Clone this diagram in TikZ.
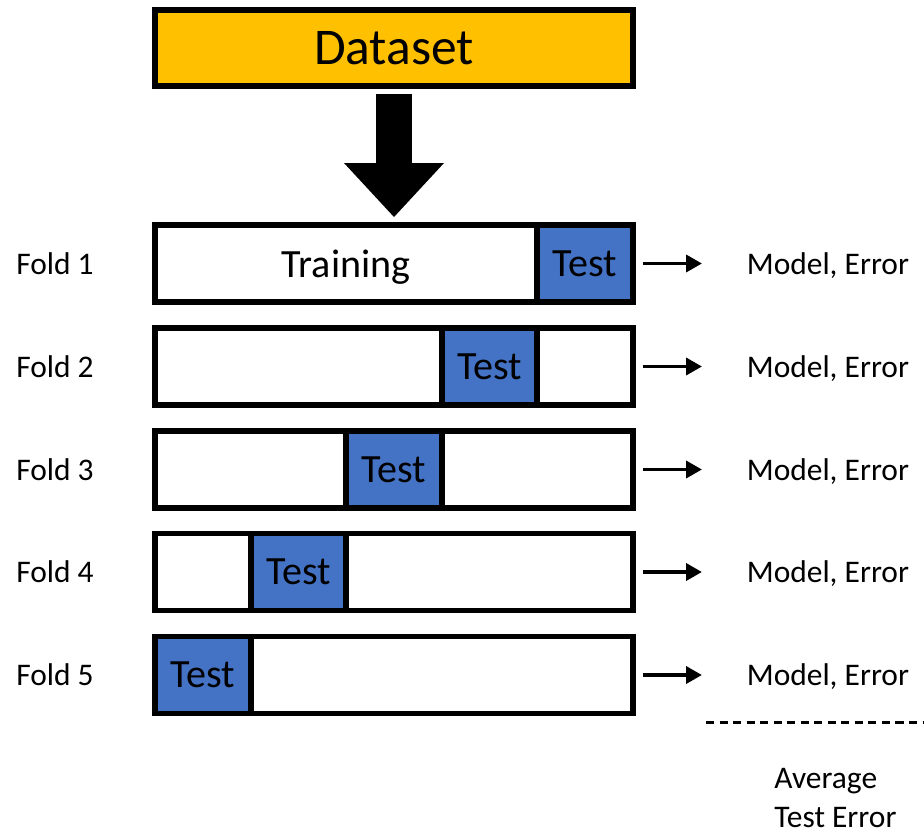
\documentclass[tikz,border=0pt]{standalone}
\usepackage{fontspec}
\setmainfont{Carlito}
\usepackage{xcolor}
\definecolor{dataset}{HTML}{FFC000}
\definecolor{testblue}{HTML}{4472C4}
\usepackage{tikz}
\usetikzlibrary{arrows.meta, positioning, calc}

\begin{document}
\begin{tikzpicture}[
  every node/.style={font=\fontsize{17.9}{22.2}\selectfont},
  data/.style={rectangle, draw=black, fill=dataset, line width=3.4pt,
               minimum width=9.56cm, minimum height=1.52cm, inner sep=0pt,
               font=\fontsize{29.3}{35}\selectfont},
  bar/.style={rectangle, draw=black, fill=white, line width=3.4pt,
              minimum width=9.56cm, minimum height=1.54cm, inner sep=0pt},
  testbox/.style={rectangle, draw=black, fill=testblue, line width=3.4pt,
                  minimum width=1.912cm, minimum height=1.54cm, inner sep=0pt,
                  font=\fontsize{22.8}{27}\selectfont},
  foldlabel/.style={inner sep=0pt},
  result/.style={anchor=west, inner sep=0pt, text depth=0pt},
  res/.style={-{Triangle[length=9pt, width=9.5pt]}, line width=2.2pt},
  bigarrow/.style={-{Triangle[length=1.08cm, width=2cm, line width=0pt]}, line width=0.72cm},
  avgline/.style={line width=1.7pt, dash pattern=on 4.6pt off 3.1pt}
]
  \useasboundingbox (0,0) rectangle (18.48,16.70);

  \node[data] (data) at (7.88, 15.74) {Dataset};

  % folds
  \node[bar] (fold1) at (7.88, 11.43) {};
  \node[bar] (fold2) at (7.88, 9.37) {};
  \node[bar] (fold3) at (7.88, 7.31) {};
  \node[bar] (fold4) at (7.88, 5.26) {};
  \node[bar] (fold5) at (7.88, 3.20) {};
  \node[font=\fontsize{22.8}{27}\selectfont, inner sep=0pt, text depth=0pt] (train) at (6.92, 11.43) {Training};
  \node[testbox] (test1) at (11.70, 11.43) {Test};
  \node[testbox] (test2) at (9.79, 9.37) {Test};
  \node[testbox] (test3) at (7.88, 7.31) {Test};
  \node[testbox] (test4) at (5.97, 5.26) {Test};
  \node[testbox] (test5) at (4.06, 3.20) {Test};

  \node[foldlabel] (lab1) at (1.10, 11.43) {Fold 1};
  \node[foldlabel] (lab2) at (1.10, 9.37) {Fold 2};
  \node[foldlabel] (lab3) at (1.10, 7.31) {Fold 3};
  \node[foldlabel] (lab4) at (1.10, 5.26) {Fold 4};
  \node[foldlabel] (lab5) at (1.10, 3.20) {Fold 5};

  \node[result] (err1) at (14.93, 11.43) {Model, Error};
  \node[result] (err2) at (14.93, 9.37) {Model, Error};
  \node[result] (err3) at (14.93, 7.31) {Model, Error};
  \node[result] (err4) at (14.93, 5.26) {Model, Error};
  \node[result] (err5) at (14.93, 3.20) {Model, Error};

  \draw[bigarrow] ([yshift=-1mm]data.south) -- ([yshift=1mm]fold1.north);

  \draw[res] ([xshift=0.14cm]fold1.east) -- ([xshift=-0.89cm]err1.west);
  \draw[res] ([xshift=0.14cm]fold2.east) -- ([xshift=-0.89cm]err2.west);
  \draw[res] ([xshift=0.14cm]fold3.east) -- ([xshift=-0.89cm]err3.west);
  \draw[res] ([xshift=0.14cm]fold4.east) -- ([xshift=-0.89cm]err4.west);
  \draw[res] ([xshift=0.14cm]fold5.east) -- ([xshift=-0.89cm]err5.west);

  % average
  \coordinate (dl) at (14.12, 2.26);
  \coordinate (dr) at (18.48, 2.26);
  \draw[avgline] (dl) -- (dr);
  \node[result, align=left] (avg) at (15.48, 0.74) {Average\\Test Error};
\end{tikzpicture}
\end{document}
